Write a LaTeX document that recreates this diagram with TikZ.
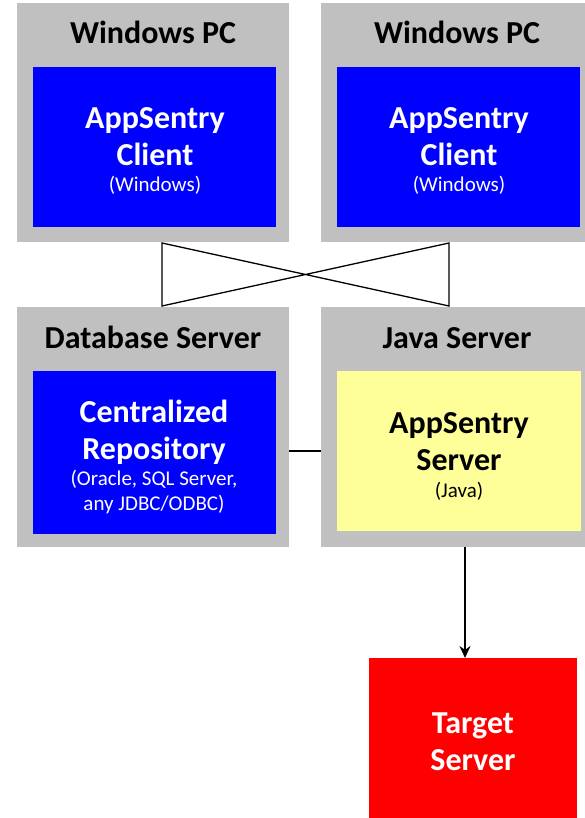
\documentclass[tikz,border=0pt]{standalone}
\usepackage{fontspec}
\setmainfont{Carlito}
\usetikzlibrary{arrows.meta}
\definecolor{boxgray}{HTML}{C0C0C0}
\definecolor{boxblue}{HTML}{0000FF}
\definecolor{boxyellow}{HTML}{FFFF99}
\definecolor{boxred}{HTML}{FF0000}
\newcommand{\bigtxt}{\fontsize{32}{37}\selectfont\bfseries}
\newcommand{\smalltxt}{\fontsize{21}{25}\selectfont\mdseries}
\tikzset{
  outerbox/.style={fill=boxgray, draw=none, anchor=north west, inner sep=0pt},
  innerbox/.style={draw=none, anchor=north west, inner sep=0pt},
  titletxt/.style={font=\bigtxt, text=black, inner sep=0pt},
  bodytxt/.style={align=center, inner sep=0pt, font=\bigtxt},
  conn/.style={draw=black, line width=1.4pt},
}
\begin{document}
\begin{tikzpicture}[x=1pt,y=-1pt]
\useasboundingbox (0,0) rectangle (585,818);
% outer gray boxes
\node[outerbox, minimum width=272pt, minimum height=239pt] (pc1) at (17,3) {};
\node[outerbox, minimum width=272pt, minimum height=239pt] (pc2) at (321,3) {};
\node[outerbox, minimum width=272pt, minimum height=240pt] (db) at (17,307) {};
\node[outerbox, minimum width=272pt, minimum height=240pt] (js) at (321,307) {};
% titles
\node[titletxt, anchor=base] (t1) at (153,44) {Windows PC};
\node[titletxt, anchor=base] (t2) at (457,44) {Windows PC};
\node[titletxt, anchor=base] (t3) at (153,348) {Database Server};
\node[titletxt, anchor=base] (t4) at (457,348) {Java Server};
% inner boxes
\node[innerbox, fill=boxblue, minimum width=243pt, minimum height=160pt] (c1) at (33,67) {};
\node[innerbox, fill=boxblue, minimum width=243pt, minimum height=160pt] (c2) at (337,67) {};
\node[innerbox, fill=boxblue, minimum width=243pt, minimum height=163pt] (repo) at (33,371) {};
\node[innerbox, fill=boxyellow, minimum width=244pt, minimum height=160pt] (srv) at (337,371) {};
\node[innerbox, fill=boxred, minimum width=208pt, minimum height=162pt] (tgt) at (369,658) {};
% texts
\node[bodytxt, text=white, anchor=base] (c1t) at (155,192) {AppSentry\\Client\\[-11pt]\smalltxt (Windows)};
\node[bodytxt, text=white, anchor=base] (c2t) at (459,192) {AppSentry\\Client\\[-11pt]\smalltxt (Windows)};
\node[bodytxt, text=white, anchor=base] (repot) at (154,510) {Centralized\\Repository\\[-11pt]\smalltxt (Oracle, SQL Server,\\[-12pt]\smalltxt any JDBC/ODBC)};
\node[bodytxt, text=black, anchor=base] (srvt) at (459,497) {AppSentry\\Server\\[-10pt]\smalltxt (Java)};
\node[bodytxt, text=white, anchor=base] (tgtt) at (473,770) {Target\\Server};
% crossing connectors
\coordinate (a1) at (162,243);
\coordinate (a2) at (162,306);
\coordinate (b1) at (449,243);
\coordinate (b2) at (449,306);
\draw[conn, line width=1.3pt] (a1) -- (a2) -- (b1) -- (b2) -- cycle;
% db to java
\draw[conn, line width=2pt] (db.east |- 0,451) -- (js.west |- 0,451);
% java to target
\draw[conn, line width=2pt, -{Stealth[length=12pt,width=11pt]}] (js.south -| 465,0) -- (tgt.north -| 465,0);
\end{tikzpicture}
\end{document}
